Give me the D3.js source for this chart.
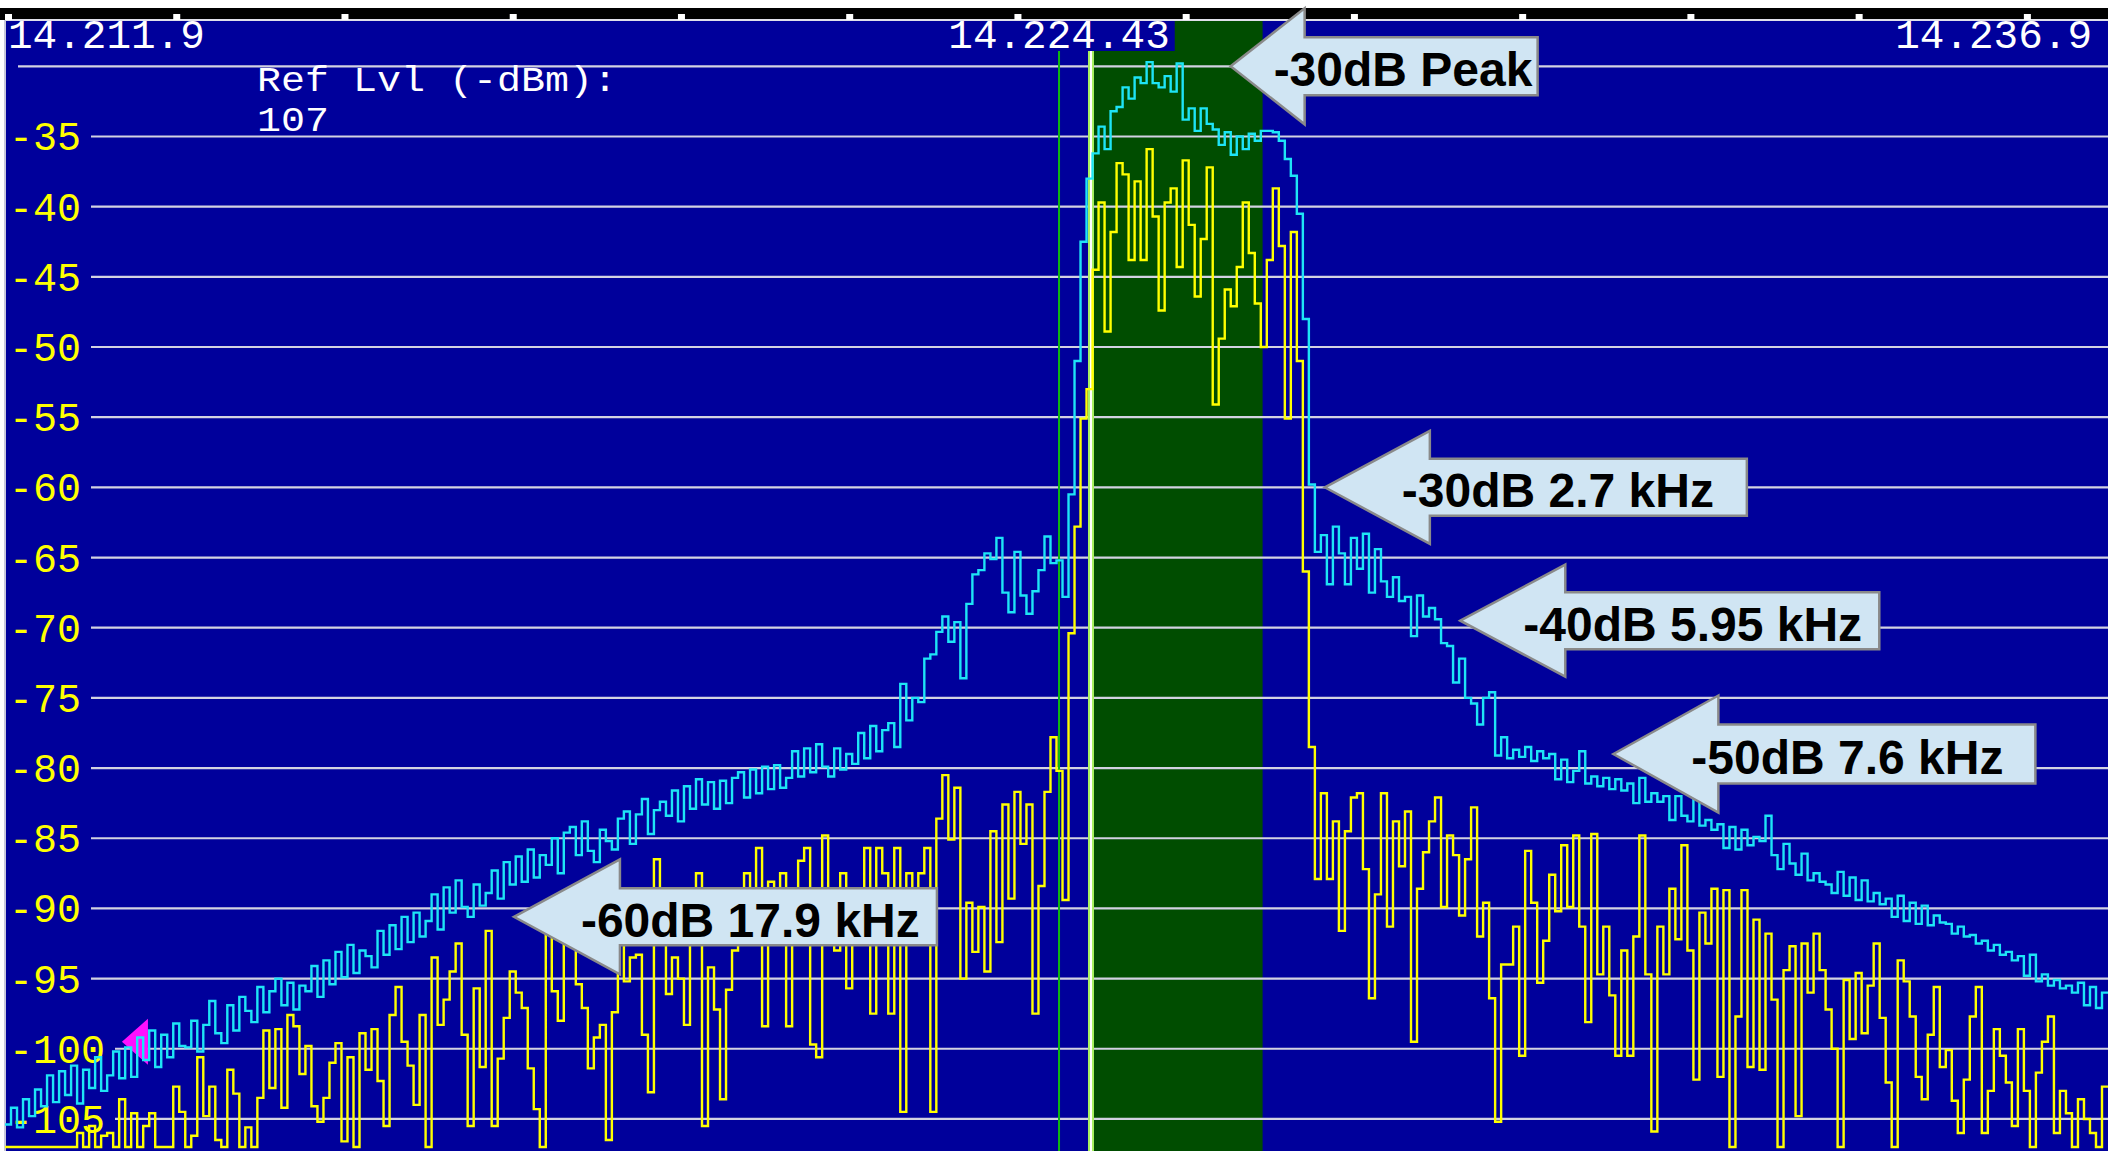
<!DOCTYPE html>
<html>
<head>
<meta charset="utf-8">
<script src="https://cdn.jsdelivr.net/npm/d3@7"></script>
<style>
  html, body { margin: 0; padding: 0; background: #ffffff; overflow: hidden; }
  svg { display: block; }
</style>
</head>
<body>
<svg id="chart" width="2108" height="1151"></svg>
<script>
// ---- Spectrum span (kHz) ----
const spanStartKHz = 14211.9;
const spanEndKHz = 14236.9;
const binCount = 350;

// Frequency readouts along the top edge
const freqLabels = ["14.211.9", "14.224.43", "14.236.9"];
const freqLabelKHz = [14211.9, 14224.43, 14236.9];
const freqLabelAnchor = ["start", "middle", "end"];

// Level grid (dBm)
const gridLevels = [-30, -35, -40, -45, -50, -55, -60, -65, -70, -75, -80, -85, -90, -95, -100, -105];
const levelLabels = [-35, -40, -45, -50, -55, -60, -65, -70, -75, -80, -85, -90, -95, -100, -105];

// Reference level readout
const refLevelText = ["Ref Lvl (-dBm):", "107"];
const refLevel = -107;
const topLevel = -26.7;

// Receiver tuning and filter passband (kHz)
const tunedKHz = 14224.43;
const passbandKHz = [14224.81, 14226.85];

// Reference level marker
const markerKHz = 14213.29;
const markerLevel = -99.5;

// Peak-hold trace (dBm), one value per bin
const peakHold = [
  -105.4,-104.2,-105.6,-103.6,-104.8,-102.9,-104.1,-101.9,-103.8,-101.6,
  -103.3,-101.2,-103.9,-101.5,-102.8,-100.6,-103.0,-101.9,-100.2,-102.1,
  -99.9,-102.0,-99.2,-100.8,-98.7,-101.3,-99.0,-100.6,-98.2,-99.8,
  -99.9,-98.0,-100.2,-98.3,-96.6,-98.9,-99.6,-96.9,-98.7,-96.3,
  -97.3,-98.1,-95.6,-97.4,-95.9,-95.0,-96.9,-95.3,-97.2,-95.5,
  -95.9,-94.1,-96.3,-93.7,-95.4,-93.1,-94.9,-92.6,-94.6,-93.0,
  -93.4,-94.2,-91.6,-93.3,-91.2,-92.9,-90.6,-92.4,-90.3,-92.0,
  -90.9,-89.0,-91.5,-88.5,-90.3,-88.0,-89.9,-90.6,-88.3,-89.8,
  -88.9,-87.3,-89.3,-86.7,-88.3,-86.3,-88.1,-85.8,-87.8,-86.2,
  -86.9,-85.0,-87.5,-84.6,-84.2,-86.2,-83.8,-85.9,-86.7,-84.4,
  -85.2,-85.8,-83.6,-83.1,-85.4,-83.3,-82.2,-84.7,-83.0,-82.4,
  -83.4,-81.6,-83.8,-81.3,-82.9,-80.8,-82.6,-81.0,-82.9,-80.9,
  -82.5,-80.7,-80.3,-82.1,-80.1,-81.8,-79.9,-81.5,-79.8,-81.4,
  -80.7,-78.8,-80.6,-78.6,-80.3,-78.3,-79.9,-80.6,-78.6,-80.1,
  -79.0,-79.7,-77.5,-79.3,-77.0,-78.8,-77.3,-76.8,-78.5,-74.0,
  -76.6,-75.0,-75.3,-72.2,-71.9,-70.3,-69.2,-71.0,-69.6,-73.6,
  -68.3,-66.2,-65.9,-64.7,-65.1,-63.6,-67.5,-68.9,-64.6,-67.7,
  -69.0,-67.4,-65.9,-63.5,-65.4,-65.2,-67.8,-60.5,-51.0,-42.5,
  -38.0,-36.2,-34.3,-35.9,-33.2,-32.9,-31.5,-32.3,-30.8,-31.2,
  -29.7,-31.2,-31.5,-30.7,-31.8,-29.8,-33.8,-33.0,-34.6,-33.0,
  -34.1,-34.5,-35.6,-34.7,-36.3,-35.0,-35.9,-34.8,-35.3,-34.6,
  -34.6,-34.7,-35.3,-36.6,-37.8,-40.5,-48.0,-59.8,-64.6,-63.4,
  -66.9,-62.8,-64.7,-66.9,-63.6,-65.8,-63.3,-67.5,-64.4,-66.7,
  -67.8,-66.4,-68.1,-67.8,-70.6,-67.7,-69.2,-68.6,-69.4,-71.1,
  -71.3,-73.9,-72.2,-75.0,-75.4,-76.9,-75.0,-74.6,-79.1,-77.8,
  -79.3,-78.7,-79.2,-78.5,-79.5,-78.8,-79.3,-79.0,-80.8,-79.4,
  -81.0,-80.2,-78.8,-81.1,-80.6,-81.3,-80.7,-81.5,-80.8,-81.6,
  -81.1,-82.5,-80.7,-82.4,-81.8,-82.4,-82.0,-83.7,-82.0,-83.4,
  -83.8,-82.2,-84.1,-83.7,-84.4,-84.0,-85.7,-84.2,-85.8,-84.4,
  -85.5,-84.9,-85.2,-83.4,-86.2,-87.2,-85.4,-86.8,-87.6,-86.1,
  -88.0,-87.5,-88.1,-88.3,-88.9,-87.4,-89.1,-87.8,-89.4,-88.0,
  -89.5,-88.9,-89.7,-89.3,-90.6,-89.1,-90.9,-89.6,-91.1,-89.8,
  -91.2,-90.5,-91.0,-91.1,-91.8,-91.3,-92.0,-91.9,-92.5,-92.3,
  -93.0,-92.6,-93.3,-93.1,-93.7,-93.4,-94.8,-93.3,-95.2,-94.7,
  -95.5,-95.1,-95.7,-95.5,-96.0,-95.3,-96.9,-95.6,-97.1,-96.0
];

// Live sweep trace (dBm), one value per bin
const liveTrace = [
  -107,-107,-107,-107,-107,-107,-107,-107,-107,-107,
  -107,-107,-106.0,-107,-105.5,-107,-106.2,-106.0,-107,-103.6,
  -107,-104.6,-107,-105.5,-104.6,-107,-107,-107,-102.7,-104.5,
  -107,-106.2,-100.6,-104.8,-102.7,-106.5,-107,-101.5,-103.2,-107,
  -105.6,-107,-103.5,-98.7,-102.8,-98.6,-104.2,-97.6,-98.4,-101.8,
  -99.8,-104.1,-105.2,-103.5,-101.0,-99.6,-106.6,-100.6,-107,-98.9,
  -101.5,-98.6,-102.3,-105.5,-97.6,-95.6,-99.5,-101.2,-104.0,-97.6,
  -107,-93.5,-98.3,-96.5,-94.5,-92.5,-99.0,-105.5,-95.7,-101.3,
  -91.6,-105.5,-100.7,-97.8,-94.5,-96.0,-97.1,-101.4,-104.3,-107,
  -91.6,-95.9,-98.0,-92.3,-92.5,-95.4,-97.1,-101.4,-99.2,-98.3,
  -106.5,-97.4,-92.3,-95.2,-93.5,-93.3,-99.0,-103.1,-86.5,-92.5,
  -96.1,-93.5,-95.0,-98.3,-92.5,-87.5,-105.5,-94.2,-97.2,-103.6,
  -95.8,-93.0,-91.2,-87.5,-90.3,-85.7,-98.4,-88.1,-92.6,-87.5,
  -98.4,-91.0,-86.6,-85.7,-99.7,-100.6,-84.8,-89.4,-93.0,-87.5,
  -95.7,-91.3,-88.8,-85.7,-97.5,-85.7,-87.5,-97.5,-85.7,-104.5,
  -87.5,-91.6,-87.5,-85.7,-104.5,-83.6,-80.5,-85.1,-81.4,-95.0,
  -89.6,-93.1,-89.9,-94.5,-84.5,-92.4,-82.6,-89.3,-81.7,-85.4,
  -82.6,-97.5,-88.4,-81.7,-77.8,-80.2,-89.4,-70.4,-62.8,-55.1,
  -53.0,-44.5,-39.7,-48.9,-41.8,-36.9,-37.7,-43.8,-38.2,-43.8,
  -35.9,-40.7,-47.4,-39.7,-38.7,-44.3,-36.7,-41.3,-46.4,-42.3,
  -37.2,-54.1,-49.4,-45.9,-47.1,-44.3,-39.7,-43.3,-46.9,-50.0,
  -43.8,-38.7,-42.8,-55.1,-41.8,-51.0,-66.0,-78.5,-87.9,-81.8,
  -87.9,-83.8,-91.6,-84.5,-82.1,-81.8,-87.2,-96.4,-89.0,-81.8,
  -91.3,-83.8,-87.0,-83.1,-99.5,-88.6,-86.0,-83.8,-82.1,-89.9,
  -84.8,-86.2,-90.5,-86.5,-82.8,-92.0,-89.6,-96.4,-105.2,-94.0,
  -94.0,-91.3,-100.5,-85.9,-89.6,-95.3,-92.3,-87.6,-90.2,-85.5,
  -89.9,-84.8,-91.3,-98.1,-84.7,-94.7,-91.3,-96.2,-100.5,-93.0,
  -100.5,-92.0,-84.8,-94.7,-105.9,-91.3,-94.7,-88.6,-92.2,-85.5,
  -93.0,-102.2,-90.3,-92.5,-88.6,-102.0,-88.7,-107,-97.7,-88.7,
  -101.3,-90.8,-101.5,-91.8,-96.5,-107,-94.4,-92.7,-104.8,-92.5,
  -96.0,-91.8,-94.4,-97.2,-100.0,-107,-95.1,-99.3,-94.6,-98.9,
  -95.5,-92.5,-97.8,-102.4,-107,-93.7,-95.2,-97.7,-102.0,-103.6,
  -99.0,-95.6,-101.3,-100.1,-103.7,-106.0,-102.2,-97.7,-95.6,-106.0,
  -103.0,-98.6,-100.5,-102.4,-105.5,-98.6,-103.0,-107,-101.7,-99.5,
  -97.7,-106.0,-103.0,-104.6,-107,-103.6,-105.0,-106.0,-107,-102.7
];

// Bandwidth callouts: text and the point each arrow points at
const calloutText = ["-30dB Peak", "-30dB 2.7 kHz", "-40dB 5.95 kHz", "-50dB 7.6 kHz", "-60dB 17.9 kHz"];
const calloutKHz = [14226.47, 14227.59, 14229.20, 14231.02, 14217.95];
const calloutLevel = [-30.0, -60.0, -69.5, -79.0, -90.6];

// ---- Layout ----
const W = 2108, H = 1151;
const plotLeft = 5, plotTop = 20, plotBottom = 1147;
const monoFont = "'Liberation Mono', 'DejaVu Sans Mono', monospace";
const monoSize = 40;
const monoAdvance = 24;
const colors = {
  screen: "#00009b",
  band: "#004d00",
  grid: "#d2d2e2",
  peak: "#1ee4f6",
  live: "#ffff00",
  levelText: "#ffff00",
  readout: "#ffffff",
  tuned: "#10b810",
  edgeGlow: "#a8f060",
  marker: "#ff10ff",
  calloutFill: "#d0e5f3",
  calloutStroke: "#8a8a8a"
};

// Arrow shapes in px: head length, head half-height, body half-height, overall length, text inset
const calloutShape = [
  { head: 74,  headHalf: 58,   bodyHalf: 29,   length: 307, inset: 43 },
  { head: 105, headHalf: 56.5, bodyHalf: 28.5, length: 422, inset: 77 },
  { head: 105, headHalf: 56,   bodyHalf: 28.5, length: 419, inset: 63 },
  { head: 105, headHalf: 58.5, bodyHalf: 29.5, length: 422, inset: 78 },
  { head: 106, headHalf: 57.5, bodyHalf: 28.5, length: 423, inset: 67 }
];

const svg = d3.select("#chart");

const x = d3.scaleLinear().domain([spanStartKHz, spanEndKHz]).range([plotLeft, W]);
const y = d3.scaleLinear().domain([refLevel, topLevel]).range([plotBottom, plotTop]).clamp(true);

// Page strip and black bezel above the screen
svg.append("rect").attr("x", 0).attr("y", 0).attr("width", W).attr("height", H).attr("fill", "#ffffff");
svg.append("rect").attr("x", 0).attr("y", 8).attr("width", W).attr("height", 12).attr("fill", "#000000");

// Screen background
svg.append("rect")
  .attr("x", plotLeft).attr("y", plotTop)
  .attr("width", W - plotLeft).attr("height", H - plotTop)
  .attr("fill", colors.screen);

// Filter passband shading
svg.append("rect")
  .attr("x", x(passbandKHz[0])).attr("y", plotTop + 1)
  .attr("width", x(passbandKHz[1]) - x(passbandKHz[0]))
  .attr("height", H - plotTop)
  .attr("fill", colors.band);

// Horizontal level grid (lines begin after their label)
const labelled = new Set(levelLabels);
svg.append("g").selectAll("line")
  .data(gridLevels)
  .join("line")
  .attr("x1", d => labelled.has(d) ? 9 + String(d).length * monoAdvance + 10 : 18)
  .attr("x2", W)
  .attr("y1", d => y(d)).attr("y2", d => y(d))
  .attr("stroke", colors.grid)
  .attr("stroke-width", 2.2);

// Screen frame
svg.append("line").attr("x1", plotLeft).attr("x2", W).attr("y1", plotTop).attr("y2", plotTop)
  .attr("stroke", "#e0e0ea").attr("stroke-width", 2);
svg.append("line").attr("x1", plotLeft).attr("x2", plotLeft).attr("y1", plotTop).attr("y2", H)
  .attr("stroke", "#c8c8da").attr("stroke-width", 2);

// Frequency tick marks in the bezel (every 2 kHz)
const tickKHz = d3.range(spanStartKHz, spanEndKHz, 2);
svg.append("g").selectAll("rect")
  .data(tickKHz)
  .join("rect")
  .attr("x", d => x(d))
  .attr("y", 14)
  .attr("width", 7)
  .attr("height", 6)
  .attr("fill", "#ffffff");

// Frequency readouts with screen-coloured backing
const freqG = svg.append("g");
freqLabels.forEach((t, i) => {
  const g = freqG.append("g");
  const bg = g.append("rect").attr("fill", colors.screen);
  const tx = freqLabelAnchor[i] === "start" ? x(freqLabelKHz[i]) + 3
           : freqLabelAnchor[i] === "end" ? x(freqLabelKHz[i]) - 16
           : x(freqLabelKHz[i]);
  const txt = g.append("text")
    .attr("x", tx).attr("y", 48)
    .attr("text-anchor", freqLabelAnchor[i])
    .attr("font-family", monoFont).attr("font-size", 41)
    .attr("fill", colors.readout)
    .text(t);
  const b = txt.node().getBBox();
  bg.attr("x", b.x - 2).attr("y", plotTop + 1).attr("width", b.width + 7).attr("height", 30);
});

// Level labels
svg.append("g").selectAll("text")
  .data(levelLabels)
  .join("text")
  .attr("x", 9)
  .attr("y", d => y(d) + 14)
  .attr("font-family", monoFont).attr("font-size", monoSize)
  .attr("fill", colors.levelText)
  .text(d => d);

// Reference level readout: compact two-line block, stretched to the mono cell width
svg.append("g").selectAll("text")
  .data(refLevelText)
  .join("text")
  .attr("x", 257)
  .attr("y", (d, i) => 91 + i * 40)
  .attr("font-family", monoFont).attr("font-size", 35)
  .attr("textLength", d => d.length * monoAdvance)
  .attr("lengthAdjust", "spacingAndGlyphs")
  .attr("fill", colors.readout)
  .text(d => d);

// Tuned frequency line and passband edge cursor
svg.append("line")
  .attr("x1", x(tunedKHz)).attr("x2", x(tunedKHz))
  .attr("y1", 51).attr("y2", H)
  .attr("stroke", colors.tuned).attr("stroke-width", 2);
svg.append("line")
  .attr("x1", x(passbandKHz[0])).attr("x2", x(passbandKHz[0]))
  .attr("y1", 51).attr("y2", H)
  .attr("stroke", colors.edgeGlow).attr("stroke-width", 6);
svg.append("line")
  .attr("x1", x(passbandKHz[0])).attr("x2", x(passbandKHz[0]))
  .attr("y1", 51).attr("y2", H)
  .attr("stroke", "#ffffff").attr("stroke-width", 2);

// Reference level marker
{
  const mx = x(markerKHz), my = y(markerLevel);
  svg.append("path")
    .attr("d", `M${mx},${my} L${mx + 26},${my - 23} L${mx + 26},${my + 23} Z`)
    .attr("fill", colors.marker);
}

// Traces
const binWidth = (spanEndKHz - spanStartKHz) / binCount;
function binPoints(values) {
  const pts = values.map((v, i) => [spanStartKHz + i * binWidth, v]);
  pts.push([spanEndKHz, values[values.length - 1]]);
  return pts;
}
const stepLine = d3.line()
  .x(d => x(d[0]))
  .y(d => y(d[1]))
  .curve(d3.curveStepAfter);

svg.append("path")
  .datum(binPoints(peakHold))
  .attr("d", stepLine)
  .attr("fill", "none")
  .attr("stroke", colors.peak)
  .attr("stroke-width", 2.4);

svg.append("path")
  .datum(binPoints(liveTrace))
  .attr("d", stepLine)
  .attr("fill", "none")
  .attr("stroke", colors.live)
  .attr("stroke-width", 2.4);

// Callout arrows
const callG = svg.append("g");
calloutText.forEach((t, i) => {
  const s = calloutShape[i];
  const tx = x(calloutKHz[i]), ty = y(calloutLevel[i]);
  const hx = tx + s.head, rx = tx + s.length;
  const d = `M${tx},${ty} L${hx},${ty - s.headHalf} L${hx},${ty - s.bodyHalf} L${rx},${ty - s.bodyHalf}` +
            ` L${rx},${ty + s.bodyHalf} L${hx},${ty + s.bodyHalf} L${hx},${ty + s.headHalf} Z`;
  callG.append("path")
    .attr("d", d)
    .attr("fill", colors.calloutFill)
    .attr("stroke", colors.calloutStroke)
    .attr("stroke-width", 2.5)
    .attr("stroke-linejoin", "miter");
  callG.append("text")
    .attr("x", tx + s.inset)
    .attr("y", ty + 20)
    .attr("font-family", "'Liberation Sans', Arial, sans-serif")
    .attr("font-weight", "bold")
    .attr("font-size", 48)
    .attr("fill", "#000000")
    .text(t);
});
</script>
</body>
</html>
